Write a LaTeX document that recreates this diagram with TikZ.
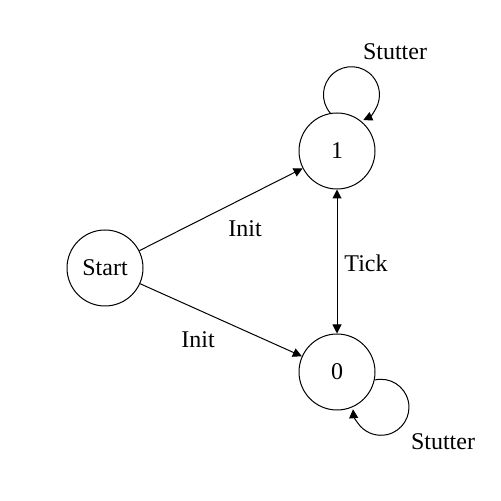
\documentclass[tikz,border=0pt]{standalone}
\usepackage{fontspec}
\setmainfont{Liberation Serif}
\usetikzlibrary{arrows.meta}
\begin{document}
\begin{tikzpicture}[x=0.5pt,y=0.5pt,
  state/.style={draw, circle, minimum size=38pt, inner sep=0pt, line width=0.5pt, font=\fontsize{12}{14}\selectfont},
  lbl/.style={inner sep=0pt, font=\fontsize{12}{14}\selectfont},
  conn/.style={line width=0.5pt, -{Triangle[length=4.5pt,width=4.5pt]}},
  bconn/.style={line width=0.5pt, {Triangle[length=4.5pt,width=4.5pt]}-{Triangle[length=4.5pt,width=4.5pt]}}]
\useasboundingbox (0,0) rectangle (500,501);
\node[state] (start) at (105,233) {Start};
\node[state] (n1) at (337,350) {1};
\node[state] (n0) at (337,129) {0};
\draw[conn] (start) -- (n1);
\draw[conn] (start) -- (n0);
\draw[bconn] (n1) -- (n0);
\draw[conn] (n1.100) arc[start angle=221, end angle=-65, radius=14pt];
\draw[conn] (n0.-12) arc[start angle=103, end angle=-176, radius=14pt];
\node[lbl] (l1) at (245,272) {Init};
\node[lbl] (l2) at (198,161) {Init};
\node[lbl] (l3) at (366,238) {Tick};
\node[lbl] (l4) at (395,449) {Stutter};
\node[lbl] (l5) at (443,59) {Stutter};
\end{tikzpicture}
\end{document}
